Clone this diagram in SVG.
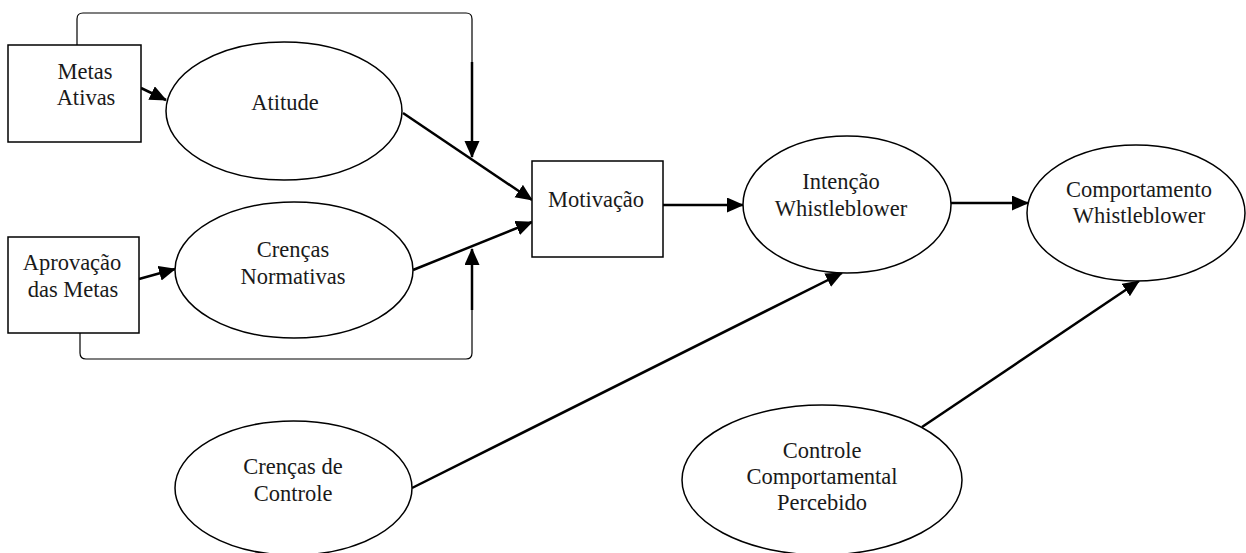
<svg xmlns="http://www.w3.org/2000/svg" width="1246" height="553" viewBox="0 0 1246 553">
<style>
.shape{fill:#fff;stroke:#000;stroke-width:1.5}
.lbl{font-family:"Liberation Serif","Times New Roman",serif;font-size:22.5px;fill:#1a1a1a;text-anchor:middle}
.conn{fill:none;stroke:#000;stroke-width:2.5}
.thin{fill:none;stroke:#000;stroke-width:1.2}
</style>
<defs>
<marker id="arr" markerUnits="userSpaceOnUse" markerWidth="17" markerHeight="16" refX="16" refY="7.5" orient="auto">
<path d="M0,0 L17,7.5 L0,15 z" fill="#000"/>
</marker>
</defs>
<rect width="1246" height="553" fill="#fff"/>
<g id="connectors">
<path class="thin" d="M77,45 L77,19 Q77,13 83,13 L466,13 Q472,13 472,19 L472,62"/>
<path class="conn" d="M472,62 L472,157" marker-end="url(#arr)"/>
<path class="thin" d="M80,333 L80,353 Q80,359 86,359 L466,359 Q472,359 472,353 L472,310"/>
<path class="conn" d="M472,310 L472,249" marker-end="url(#arr)"/>
<path class="conn" d="M141,88 L166,100" marker-end="url(#arr)"/>
<path class="conn" d="M139,279 L175,269" marker-end="url(#arr)"/>
<path class="conn" d="M403,113 L532,200" marker-end="url(#arr)"/>
<path class="conn" d="M413,270 L532,222" marker-end="url(#arr)"/>
<path class="conn" d="M663,205 L743,205" marker-end="url(#arr)"/>
<path class="conn" d="M951,203 L1028,203" marker-end="url(#arr)"/>
<path class="conn" d="M412,488 L842,273" marker-end="url(#arr)"/>
<path class="conn" d="M922,427 L1139,281" marker-end="url(#arr)"/>
</g>
<g id="metas-ativas">
<rect class="shape" x="8" y="45" width="133" height="97"/>
<text class="lbl" x="85" y="79">Metas</text>
<text class="lbl" x="86" y="105">Ativas</text>
</g>
<g id="atitude">
<ellipse class="shape" cx="284" cy="111" rx="118" ry="69"/>
<text class="lbl" x="285" y="110">Atitude</text>
</g>
<g id="aprovacao-metas">
<rect class="shape" x="8" y="237" width="131" height="96"/>
<text class="lbl" x="72" y="270">Aprovação</text>
<text class="lbl" x="73" y="297">das Metas</text>
</g>
<g id="crencas-normativas">
<ellipse class="shape" cx="294" cy="270" rx="119" ry="68"/>
<text class="lbl" x="293" y="257">Crenças</text>
<text class="lbl" x="293" y="284">Normativas</text>
</g>
<g id="motivacao">
<rect class="shape" x="532" y="161" width="131" height="96"/>
<text class="lbl" x="596" y="207">Motivação</text>
</g>
<g id="intencao">
<ellipse class="shape" cx="847" cy="204.5" rx="104" ry="68.5"/>
<text class="lbl" x="841" y="189">Intenção</text>
<text class="lbl" x="841" y="216">Whistleblower</text>
</g>
<g id="comportamento">
<ellipse class="shape" cx="1136" cy="213" rx="109" ry="68"/>
<text class="lbl" x="1139" y="197">Comportamento</text>
<text class="lbl" x="1139" y="223">Whistleblower</text>
</g>
<g id="crencas-controle">
<ellipse class="shape" cx="293.5" cy="488" rx="118.5" ry="67"/>
<text class="lbl" x="293" y="474">Crenças de</text>
<text class="lbl" x="293" y="501">Controle</text>
</g>
<g id="controle-comportamental">
<ellipse class="shape" cx="822" cy="480" rx="140" ry="75"/>
<text class="lbl" x="822" y="458">Controle</text>
<text class="lbl" x="822" y="484">Comportamental</text>
<text class="lbl" x="822" y="510">Percebido</text>
</g>
</svg>
